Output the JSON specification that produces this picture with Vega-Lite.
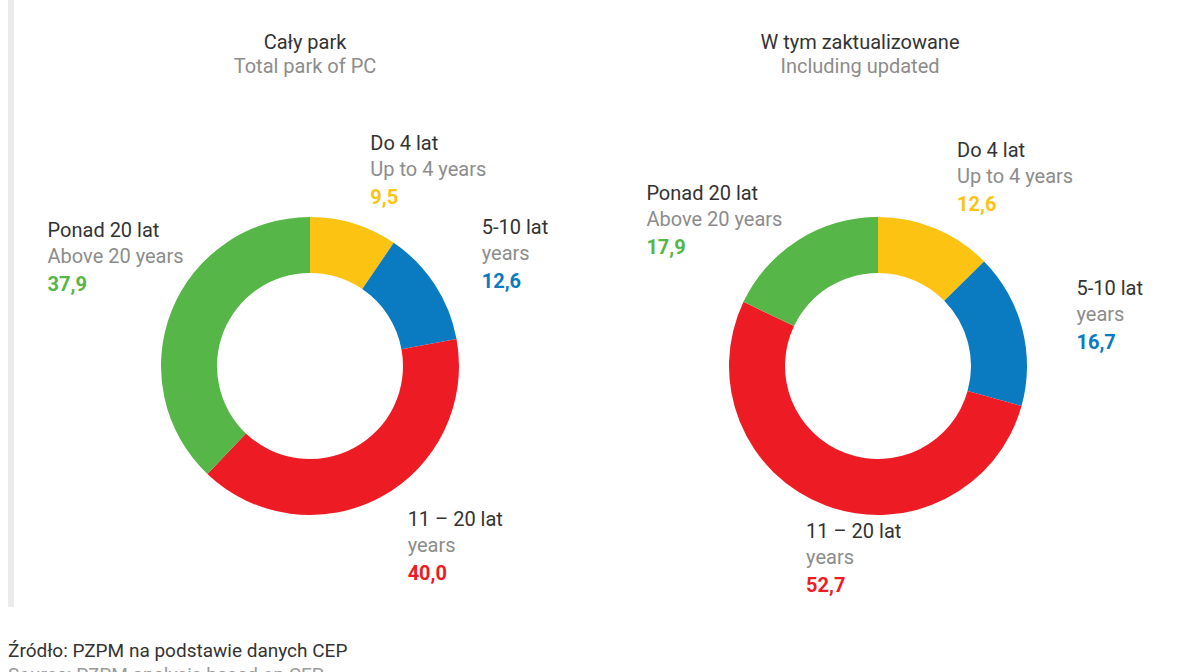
{
  "$schema": "https://vega.github.io/schema/vega-lite/v6.json",
  "padding": {"left": 8, "top": 0, "right": 0, "bottom": 0},
  "background": "white",
  "data": {
    "values": [
      {"chart": "Cały park", "cat": "Do 4 lat", "en": "Up to 4 years", "value": 9.5, "order": 1},
      {"chart": "Cały park", "cat": "5-10 lat", "en": "years", "value": 12.6, "order": 2},
      {"chart": "Cały park", "cat": "11 – 20 lat", "en": "years", "value": 40.0, "order": 3},
      {"chart": "Cały park", "cat": "Ponad 20 lat", "en": "Above 20 years", "value": 37.9, "order": 4},
      {"chart": "W tym zaktualizowane", "cat": "Do 4 lat", "en": "Up to 4 years", "value": 12.6, "order": 1},
      {"chart": "W tym zaktualizowane", "cat": "5-10 lat", "en": "years", "value": 16.7, "order": 2},
      {"chart": "W tym zaktualizowane", "cat": "11 – 20 lat", "en": "years", "value": 52.7, "order": 3},
      {"chart": "W tym zaktualizowane", "cat": "Ponad 20 lat", "en": "Above 20 years", "value": 17.9, "order": 4}
    ]
  },
  "title": {
    "text": "Źródło: PZPM na podstawie danych CEP",
    "subtitle": "Source: PZPM analysis based on CEP",
    "orient": "bottom",
    "anchor": "start",
    "offset": -90,
    "fontSize": 19,
    "subtitleFontSize": 19,
    "subtitlePadding": 5,
    "color": "#333333",
    "subtitleColor": "#9a9a9a"
  },
  "spacing": 6,
  "hconcat": [
    {
      "width": 6,
      "height": 607,
      "view": {"fill": "#ebebeb", "stroke": null},
      "mark": {"type": "text"},
      "encoding": {"text": {"value": ""}}
    },
    {
      "width": 580,
      "height": 732,
      "title": {"text": "Cały park", "subtitle": "Total park of PC", "dx": -5},
      "transform": [
        {"filter": "datum.chart === 'Cały park'"},
        {"window": [{"op": "sum", "field": "value", "as": "cum"}], "sort": [{"field": "order"}], "frame": [null, 0]},
        {"joinaggregate": [{"op": "sum", "field": "value", "as": "total"}]},
        {"calculate": "(datum.cum - datum.value / 2) / datum.total", "as": "frac"}
      ],
      "encoding": {
        "theta": {"field": "value", "type": "quantitative", "stack": true},
        "order": {"field": "order", "type": "quantitative"},
        "detail": {"field": "cat", "type": "nominal"}
      },
      "layer": [
        {
          "mark": {"type": "arc", "innerRadius": 93, "outerRadius": 149},
          "encoding": {
            "color": {"field": "cat", "type": "nominal", "legend": null,
              "scale": {"domain": ["Do 4 lat", "5-10 lat", "11 – 20 lat", "Ponad 20 lat"], "range": ["#FDC313", "#0B7BC1", "#ED1C24", "#56B647"]}}
          }
        },
        {
          "mark": {"type": "text", "radius": {"expr": "datum.frac >= 0.6 ? 78 : 205"}, "dx": {"expr": "datum.frac >= 0.6 ? -190 : 0"}, "dy": {"expr": "(datum.frac >= 0.6 ? -80 : 0) - 26"}, "align": "left", "baseline": "middle", "color": "#333333", "fontSize": 20},
          "encoding": {"text": {"field": "cat", "type": "nominal"}}
        },
        {
          "mark": {"type": "text", "radius": {"expr": "datum.frac >= 0.6 ? 78 : 205"}, "dx": {"expr": "datum.frac >= 0.6 ? -190 : 0"}, "dy": {"expr": "(datum.frac >= 0.6 ? -80 : 0)"}, "align": "left", "baseline": "middle", "color": "#8c8c8c", "fontSize": 20},
          "encoding": {"text": {"field": "en", "type": "nominal"}}
        },
        {
          "mark": {"type": "text", "radius": {"expr": "datum.frac >= 0.6 ? 78 : 205"}, "dx": {"expr": "datum.frac >= 0.6 ? -190 : 0"}, "dy": {"expr": "(datum.frac >= 0.6 ? -80 : 0) + 28"}, "align": "left", "baseline": "middle", "fontSize": 20, "fontWeight": "bold"},
          "encoding": {
            "text": {"field": "value", "type": "quantitative", "format": ".1f"},
            "color": {"field": "cat", "type": "nominal", "legend": null}
          }
        }
      ]
    },
    {
      "width": 544,
      "height": 732,
      "title": {"text": "W tym zaktualizowane", "subtitle": "Including updated", "dx": -18},
      "transform": [
        {"filter": "datum.chart === 'W tym zaktualizowane'"},
        {"window": [{"op": "sum", "field": "value", "as": "cum"}], "sort": [{"field": "order"}], "frame": [null, 0]},
        {"joinaggregate": [{"op": "sum", "field": "value", "as": "total"}]},
        {"calculate": "(datum.cum - datum.value / 2) / datum.total", "as": "frac"}
      ],
      "encoding": {
        "theta": {"field": "value", "type": "quantitative", "stack": true},
        "order": {"field": "order", "type": "quantitative"},
        "detail": {"field": "cat", "type": "nominal"}
      },
      "layer": [
        {
          "mark": {"type": "arc", "innerRadius": 93, "outerRadius": 149},
          "encoding": {
            "color": {"field": "cat", "type": "nominal", "legend": null,
              "scale": {"domain": ["Do 4 lat", "5-10 lat", "11 – 20 lat", "Ponad 20 lat"], "range": ["#FDC313", "#0B7BC1", "#ED1C24", "#56B647"]}}
          }
        },
        {
          "mark": {"type": "text", "radius": {"expr": "datum.frac >= 0.6 ? 78 : 205"}, "dx": {"expr": "datum.frac >= 0.6 ? -190 : 0"}, "dy": {"expr": "(datum.frac >= 0.6 ? -80 : 0) - 26"}, "align": "left", "baseline": "middle", "color": "#333333", "fontSize": 20},
          "encoding": {"text": {"field": "cat", "type": "nominal"}}
        },
        {
          "mark": {"type": "text", "radius": {"expr": "datum.frac >= 0.6 ? 78 : 205"}, "dx": {"expr": "datum.frac >= 0.6 ? -190 : 0"}, "dy": {"expr": "(datum.frac >= 0.6 ? -80 : 0)"}, "align": "left", "baseline": "middle", "color": "#8c8c8c", "fontSize": 20},
          "encoding": {"text": {"field": "en", "type": "nominal"}}
        },
        {
          "mark": {"type": "text", "radius": {"expr": "datum.frac >= 0.6 ? 78 : 205"}, "dx": {"expr": "datum.frac >= 0.6 ? -190 : 0"}, "dy": {"expr": "(datum.frac >= 0.6 ? -80 : 0) + 28"}, "align": "left", "baseline": "middle", "fontSize": 20, "fontWeight": "bold"},
          "encoding": {
            "text": {"field": "value", "type": "quantitative", "format": ".1f"},
            "color": {"field": "cat", "type": "nominal", "legend": null}
          }
        }
      ]
    }
  ],
  "config": {
    "font": "Roboto",
    "view": {"stroke": null},
    "locale": {"number": {"decimal": ",", "thousands": " ", "grouping": [3], "currency": ["", " zł"]}},
    "title": {
      "font": "Roboto",
      "fontSize": 20,
      "fontWeight": "normal",
      "color": "#333333",
      "subtitleFont": "Roboto",
      "subtitleFontSize": 20,
      "subtitleColor": "#8c8c8c",
      "lineHeight": 25,
      "subtitleLineHeight": 25,
      "subtitlePadding": 4,
      "offset": -77
    }
  }
}
